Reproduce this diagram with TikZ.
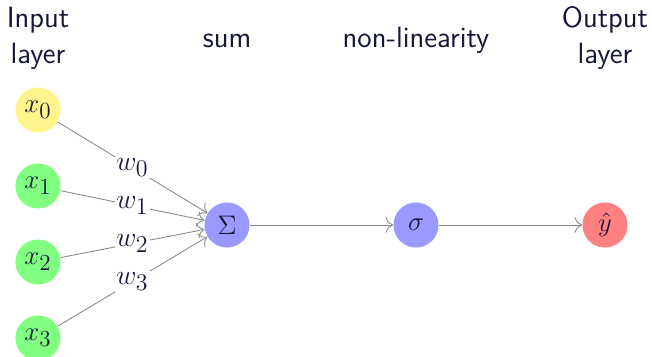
\documentclass[tikz,border=0pt]{standalone}
\usepackage{fix-cm}
\usetikzlibrary{arrows.meta}
\DeclareMathSizes{14}{14}{12}{9.5}
\DeclareMathSizes{14.5}{14.5}{12.5}{10}
\definecolor{txt}{RGB}{22,22,58}
\definecolor{cyel}{RGB}{255,245,140}
\definecolor{cgrn}{RGB}{128,255,128}
\definecolor{cblu}{RGB}{153,153,255}
\definecolor{cred}{RGB}{255,128,128}
\definecolor{cedge}{RGB}{136,136,136}
\begin{document}
\begin{tikzpicture}[x=0.5217pt,y=-0.5217pt,
  every node/.style={text=txt, font=\fontsize{14}{17}\selectfont},
  neuron/.style={circle, minimum size=23.5pt, inner sep=0pt},
  header/.style={font=\sffamily\fontsize{15.3}{18.8}\selectfont, align=center, text=txt},
  conn/.style={draw=cedge, line width=0.45pt, -{To[scale=1.5]}},
  wlab/.style={fill=white, inner sep=0.6pt, midway, font=\fontsize{14.5}{17}\selectfont}]
\useasboundingbox (0,0) rectangle (652,357);
\node[header] (hin) at (38,38) {Input\\layer};
\node[header, anchor=base] (hsum) at (227,48) {sum};
\node[header, anchor=base] (hnl) at (416,48) {non-linearity};
\node[header] (hout) at (605,38) {Output\\layer};
\node[neuron, fill=cyel] (x0) at (38,110) {$x_0$};
\node[neuron, fill=cgrn] (x1) at (38,186) {$x_1$};
\node[neuron, fill=cgrn] (x2) at (38,262) {$x_2$};
\node[neuron, fill=cgrn] (x3) at (38,338) {$x_3$};
\node[neuron, fill=cblu] (sum) at (227,225) {$\Sigma$};
\node[neuron, fill=cblu] (sig) at (416,225) {$\sigma$};
\node[neuron, fill=cred] (out) at (605,225) {$\hat{y}$};
\draw[conn] (x0) -- node[wlab] {$w_0$} (sum);
\draw[conn] (x1) -- node[wlab] {$w_1$} (sum);
\draw[conn] (x2) -- node[wlab] {$w_2$} (sum);
\draw[conn] (x3) -- node[wlab] {$w_3$} (sum);
\draw[conn] (sum) -- (sig);
\draw[conn] (sig) -- (out);
\end{tikzpicture}
\end{document}
